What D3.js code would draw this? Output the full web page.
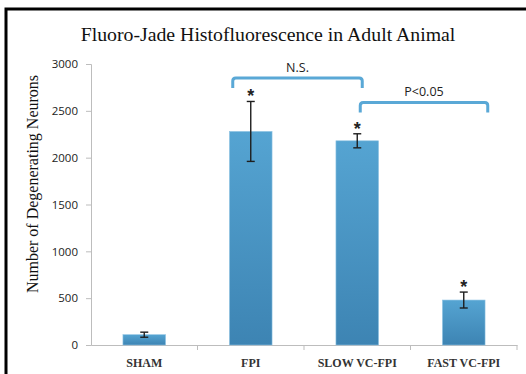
<!DOCTYPE html>
<html>
<head>
<meta charset="utf-8">
<script src="https://cdnjs.cloudflare.com/ajax/libs/d3/7.8.5/d3.min.js"></script>
<style>
  body { margin: 0; background: #fff; }
  svg { display: block; }
</style>
</head>
<body>
<div id="chart"></div>
<script>
// data
var groups = ["SHAM", "FPI", "SLOW VC-FPI", "FAST VC-FPI"];
var means = [110, 2280, 2180, 480];
var errs = [27, 320, 75, 85];
var starred = [false, true, true, true];
var yTicks = [0, 500, 1000, 1500, 2000, 2500, 3000];
var brackets = [
  {from: "FPI", to: "SLOW VC-FPI", level: 2850, label: "N.S."},
  {from: "SLOW VC-FPI", to: "FAST VC-FPI", level: 2590, label: "P<0.05"}
];

var W = 526, H = 374;
var svg = d3.select("#chart").append("svg").attr("width", W).attr("height", H);

// frame
svg.append("rect").attr("x", 6).attr("y", 9).attr("width", 540).attr("height", 400)
  .attr("fill", "none").attr("stroke", "#000").attr("stroke-width", 3);

var pLeft = 91, pRight = 517, pTop = 64, pBottom = 345;

var x = d3.scaleBand().domain(groups).range([pLeft, pRight]).paddingInner(0.6).paddingOuter(0.3);
var y = d3.scaleLinear().domain([0, 3000]).range([pBottom, pTop]);

var defs = svg.append("defs");
var grad = defs.append("linearGradient").attr("id", "barg").attr("x1", 0).attr("y1", 0).attr("x2", 0).attr("y2", 1);
grad.append("stop").attr("offset", "0%").attr("stop-color", "#55a4d2");
grad.append("stop").attr("offset", "100%").attr("stop-color", "#3d84b3");

// title
svg.append("text").attr("x", 268).attr("y", 41).attr("text-anchor", "middle")
  .style("font-family", "Liberation Serif, Times New Roman, serif").style("font-size", "19.8px")
  .attr("fill", "#111").text("Fluoro-Jade Histofluorescence in Adult Animal");

// y axis
var yAxis = svg.append("g").attr("transform", "translate(" + pLeft + ",0)")
  .call(d3.axisLeft(y).tickValues(yTicks).tickSize(5).tickPadding(8).tickFormat(d3.format("d")));
yAxis.selectAll("line, path").attr("stroke", "#bdbdbd");
yAxis.selectAll("text").style("font-family", "Open Sans, Liberation Sans, sans-serif")
  .style("font-size", "11.5px").attr("fill", "#222");

svg.append("text").attr("transform", "translate(38,184) rotate(-90)")
  .attr("text-anchor", "middle")
  .style("font-family", "Liberation Serif, Times New Roman, serif").style("font-size", "16px")
  .attr("fill", "#111").text("Number of Degenerating Neurons");

// x axis
var xAxis = svg.append("g").attr("transform", "translate(0," + pBottom + ")")
  .call(d3.axisBottom(x).tickSize(0).tickPadding(13));
xAxis.select("path").attr("stroke", "#bdbdbd");
xAxis.selectAll("text").style("font-family", "Liberation Serif, Times New Roman, serif")
  .style("font-size", "12px").style("font-weight", "bold").attr("fill", "#333");
var step = x.step();
var bounds = groups.map(function(g) { return x(g) + x.bandwidth() / 2 + step / 2; });
svg.selectAll(".xt").data(bounds).enter().append("line")
  .attr("x1", function(d) { return d; }).attr("x2", function(d) { return d; })
  .attr("y1", pBottom).attr("y2", pBottom + 5).attr("stroke", "#bdbdbd");

// bars
svg.selectAll(".bar").data(groups).enter().append("rect")
  .attr("x", function(d) { return x(d); })
  .attr("y", function(d, i) { return y(means[i]); })
  .attr("width", x.bandwidth())
  .attr("height", function(d, i) { return pBottom - y(means[i]); })
  .attr("fill", "url(#barg)")
  .attr("stroke", "#8fc3e3").attr("stroke-width", 0.6);

// error bars
var eb = svg.selectAll(".eb").data(groups).enter().append("g")
  .attr("stroke", "#1e1e1e").attr("stroke-width", 1.4);
eb.append("line")
  .attr("x1", function(d) { return x(d) + x.bandwidth() / 2; })
  .attr("x2", function(d) { return x(d) + x.bandwidth() / 2; })
  .attr("y1", function(d, i) { return y(means[i] + errs[i]); })
  .attr("y2", function(d, i) { return y(means[i] - errs[i]); });
[1, -1].forEach(function(s) {
  eb.append("line")
    .attr("x1", function(d) { return x(d) + x.bandwidth() / 2 - 4; })
    .attr("x2", function(d) { return x(d) + x.bandwidth() / 2 + 4; })
    .attr("y1", function(d, i) { return y(means[i] + s * errs[i]); })
    .attr("y2", function(d, i) { return y(means[i] + s * errs[i]); });
});

// asterisks
svg.selectAll(".star").data(groups.filter(function(d, i) { return starred[i]; })).enter().append("text")
  .attr("x", function(d) { return x(d) + x.bandwidth() / 2; })
  .attr("y", function(d) { var i = groups.indexOf(d); return y(means[i] + errs[i]) + 1; })
  .attr("text-anchor", "middle")
  .style("font-family", "Liberation Sans, sans-serif").style("font-size", "18px").style("font-weight", "bold")
  .attr("fill", "#222").text("*");

// significance brackets
brackets.forEach(function(b) {
  var x1, x2;
  if (b.from === "SLOW VC-FPI") {
    x1 = x(b.from) + x.bandwidth() / 2 + 3; x2 = x(b.to) + x.bandwidth() / 2 + 24;
  } else {
    x1 = x(b.from) + x.bandwidth() / 2 - 18; x2 = x(b.to) + x.bandwidth() / 2 + 5;
  }
  var yy = y(b.level), r = 3, drop = 10;
  svg.append("path")
    .attr("d", "M" + x1 + "," + (yy + drop) + " L" + x1 + "," + (yy + r) +
      " Q" + x1 + "," + yy + " " + (x1 + r) + "," + yy +
      " L" + (x2 - r) + "," + yy + " Q" + x2 + "," + yy + " " + x2 + "," + (yy + r) +
      " L" + x2 + "," + (yy + drop))
    .attr("fill", "none").attr("stroke", "#5aa8d6").attr("stroke-width", 3);
  svg.append("text").attr("x", (x1 + x2) / 2).attr("y", yy - 6)
    .attr("text-anchor", "middle")
    .style("font-family", "Open Sans, Liberation Sans, sans-serif").style("font-size", "12.5px")
    .attr("fill", "#222").text(b.label);
});
</script>
</body>
</html>
